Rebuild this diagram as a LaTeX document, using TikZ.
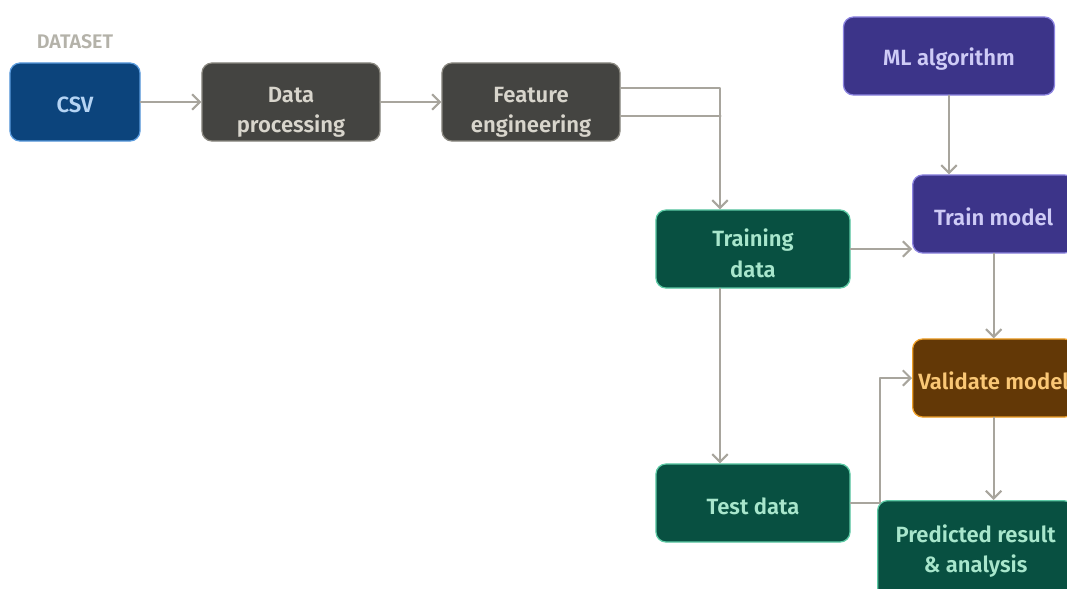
\documentclass[tikz,border=0pt]{standalone}
\usepackage{fontspec}
\setmainfont{Fira Sans}[UprightFont={* SemiBold}]
\usetikzlibrary{arrows.meta}
\definecolor{blueF}{HTML}{0C447C}\definecolor{blueB}{HTML}{5A9BDD}\definecolor{blueT}{HTML}{B5D4F4}
\definecolor{grayF}{HTML}{444441}\definecolor{grayB}{HTML}{8A8880}\definecolor{grayT}{HTML}{D8D5CC}
\definecolor{purpF}{HTML}{3C3489}\definecolor{purpB}{HTML}{8C84E0}\definecolor{purpT}{HTML}{CECBF6}
\definecolor{tealF}{HTML}{085041}\definecolor{tealB}{HTML}{5DCAA5}\definecolor{tealT}{HTML}{A8E6CC}
\definecolor{ambF}{HTML}{633806}\definecolor{ambB}{HTML}{EF9F27}\definecolor{ambT}{HTML}{FAC775}
\definecolor{arrowC}{HTML}{A8A59D}\definecolor{labelC}{HTML}{B4B2A9}
\newcommand{\oneline}[1]{\raisebox{-2pt}[\height][\depth]{#1}}
\newcommand{\twoline}[3][-6.5pt]{\raisebox{#1}[\height][\depth]{\begin{tabular}{@{}c@{}}#2\\#3\end{tabular}}}
\begin{document}
\begin{tikzpicture}[x=0.025cm,y=-0.025cm,line join=round,line cap=round,
		>={Straight Barb[length=5.5pt,width=11pt]},font=\fontsize{15.7}{21.5}\selectfont,
		box/.style={draw,rounded corners=0.25cm,align=center,inner sep=0pt,line width=0.9pt,minimum height=1.95cm},
		bluebox/.style={box,fill=blueF,draw=blueB,text=blueT},
		graybox/.style={box,fill=grayF,draw=grayB,text=grayT},
		purpbox/.style={box,fill=purpF,draw=purpB,text=purpT},
		tealbox/.style={box,fill=tealF,draw=tealB,text=tealT},
		ambbox/.style={box,fill=ambF,draw=ambB,text=ambT},
		flow/.style={->,draw=arrowC,line width=1.5pt}]
	\useasboundingbox (0,0) rectangle (1067,588);
	%%% dataset row
	\node[text=labelC,font=\fontsize{14}{16}\selectfont] (dslabel) at (75,42) {DATASET};
	\node[bluebox,minimum width=3.25cm] (csv) at (75,102) {\oneline{CSV}};
	\node[graybox,minimum width=4.45cm] (dataproc) at (291,102) {\twoline{Data}{processing}};
	\node[graybox,minimum width=4.45cm] (feateng) at (531,102) {\twoline{Feature}{engineering}};
	%%% data split
	\node[tealbox,minimum width=4.85cm] (traindata) at (753,249) {\twoline[-5pt]{Training}{data}};
	\node[tealbox,minimum width=4.85cm] (testdata) at (753,503) {\oneline{Test data}};
	%%% model column
	\node[purpbox,minimum width=5.275cm] (mlalg) at (949,56) {\oneline{ML algorithm}};
	\node[purpbox,minimum width=4.05cm,anchor=west] (trainmodel) at (912,214) {\oneline{Train model}};
	\node[ambbox,minimum width=4.05cm,anchor=west] (valmodel) at (912,378) {\oneline{Validate model}};
	\node[tealbox,minimum width=4.9cm,minimum height=2.45cm,anchor=north west] (predres) at (877,500) {\twoline[-1.5pt]{Predicted result}{\& analysis}};
	%%% arrows
	\draw[flow] (csv) -- (dataproc);
	\draw[flow] (dataproc) -- (feateng);
	\draw[flow] ([yshift=0.36cm]feateng.east) -| ([xshift=-0.825cm]traindata.north);
	\draw[draw=arrowC,line width=1.5pt] ([yshift=-0.36cm]feateng.east) -- ++(100,0);
	\draw[flow] ([xshift=-0.825cm]traindata.south) -- ([xshift=-0.825cm]testdata.north);
	\draw[flow] (traindata.east) -- (traindata.east -| trainmodel.west);
	\draw[flow] (mlalg.south) -- (mlalg.south |- trainmodel.north);
	\draw[flow] (trainmodel.south -| valmodel.north) -- (valmodel.north);
	\draw[flow] (testdata.east) -- ++(29,0) |- (valmodel.west);
	\draw[flow] (valmodel.south) -- (valmodel.south |- predres.north);
\end{tikzpicture}
\end{document}
